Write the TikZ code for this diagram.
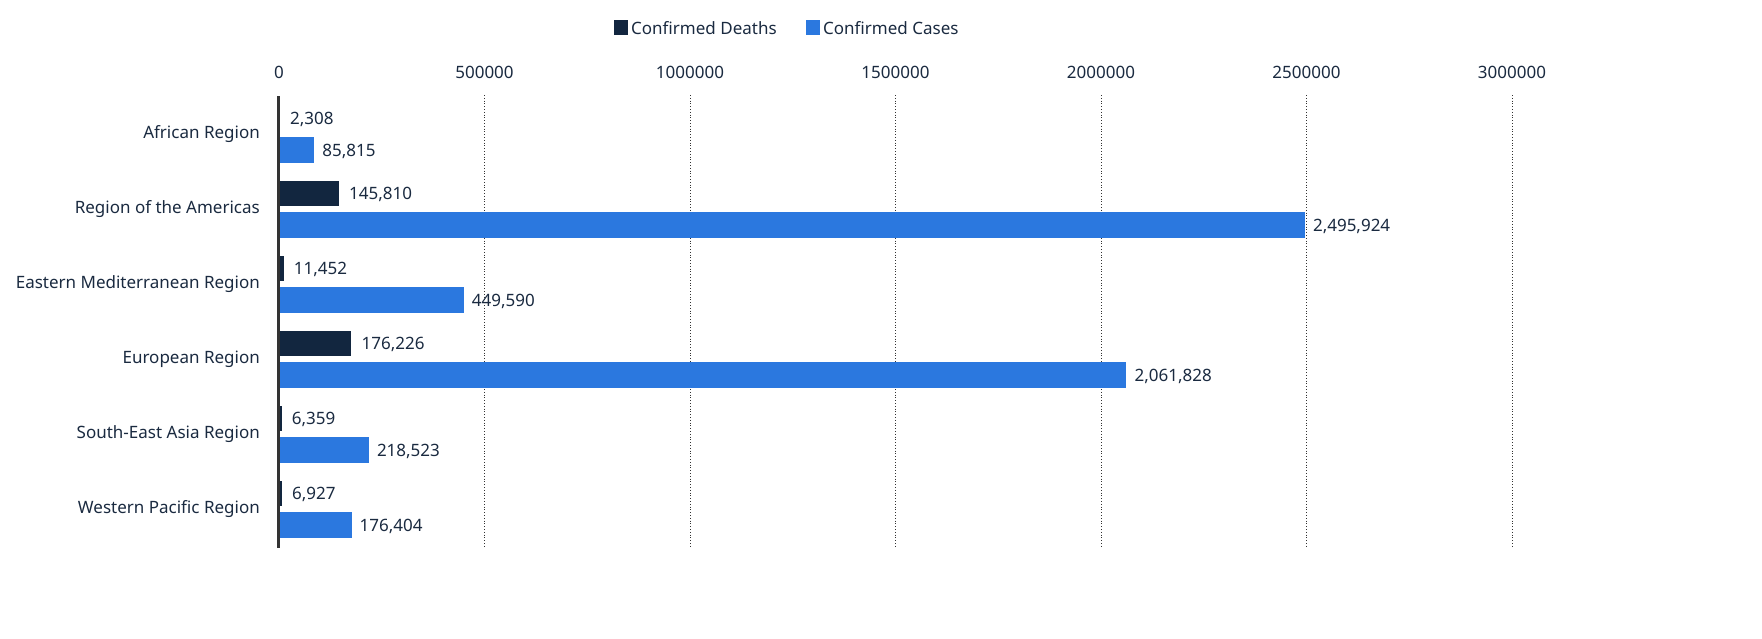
\documentclass[tikz,border=0pt]{standalone}
\usepackage{fontspec}
\setmainfont{Noto Sans}
\definecolor{deathc}{HTML}{12263F}
\definecolor{casec}{HTML}{2B78DF}
\definecolor{txt}{HTML}{1A2A40}
\begin{document}
\begin{tikzpicture}[x=1pt,y=-1pt,
  lbl/.style={font=\fontsize{17}{20}\selectfont,text=txt,inner sep=0pt}]
\useasboundingbox (0,0) rectangle (1762,638);
% legend
\fill[deathc] (614,20) rectangle (628,35);
\node[lbl,anchor=west] (l1) at (631,28) {Confirmed Deaths};
\fill[casec] (806,20) rectangle (820,35);
\node[lbl,anchor=west] (l2) at (823,28) {Confirmed Cases};
% grid and ticks
\foreach \i/\t in {0/0,1/500000,2/1000000,3/1500000,4/2000000,5/2500000,6/3000000}{
  \pgfmathsetmacro\xx{279+205.5*\i}
  \node[lbl] (t\i) at (\xx,72) {\t};
  \ifnum\i>0 \draw[dotted,thick,black!80] (\xx,95) -- (\xx,546);\fi
}
\foreach \n/\cy/\d/\dl/\c/\cl in {
 African Region/134/2.308/2{,}308/85.815/85{,}815,
 Region of the Americas/209/145.810/145{,}810/2495.924/2{,}495{,}924,
 Eastern Mediterranean Region/284/11.452/11{,}452/449.590/449{,}590,
 European Region/359/176.226/176{,}226/2061.828/2{,}061{,}828,
 South-East Asia Region/434/6.359/6{,}359/218.523/218{,}523,
 Western Pacific Region/509/6.927/6{,}927/176.404/176{,}404}{
  \node[lbl,anchor=east] at (260,\cy) {\n};
  \pgfmathsetmacro\dx{279+\d*0.411}
  \pgfmathsetmacro\cx{279+\c*0.411}
  \fill[deathc] (279,\cy-28) rectangle (\dx,\cy-3);
  \fill[casec] (279,\cy+3) rectangle (\cx,\cy+29);
  \node[lbl,anchor=west] at (\dx+10,\cy-15) {\dl};
  \node[lbl,anchor=west] at (\cx+8,\cy+17) {\cl};
}
\draw[line width=3pt,black!80] (278,96) -- (278,548);
\end{tikzpicture}
\end{document}
